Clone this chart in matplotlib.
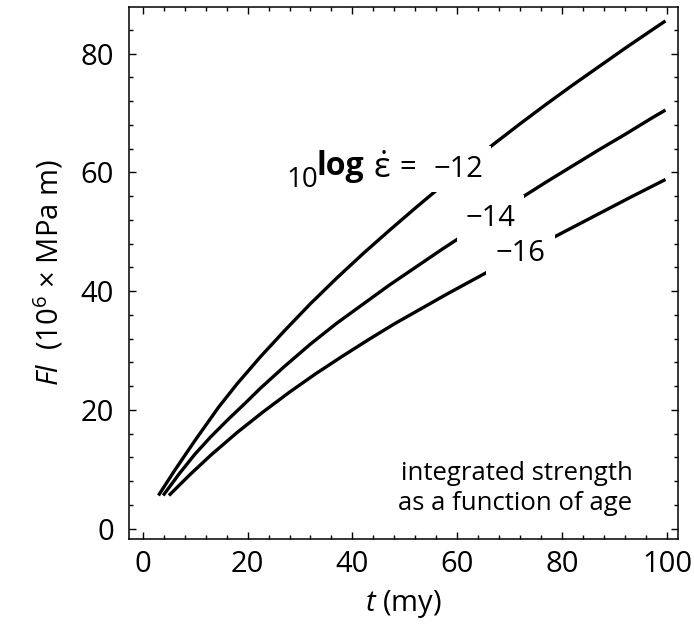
import matplotlib
matplotlib.use("Agg")
import matplotlib.pyplot as plt
from matplotlib.ticker import MultipleLocator

plt.rcParams['font.family'] = ['Open Sans', 'DejaVu Sans']
plt.rcParams['mathtext.fontset'] = 'custom'
plt.rcParams['mathtext.rm'] = 'Open Sans'
plt.rcParams['mathtext.it'] = 'Open Sans:italic'
plt.rcParams['mathtext.bf'] = 'Open Sans:bold'

# Data (t in my, FI in 10^6 x MPa m)
t_m12 = [3, 6, 10, 14.5, 18, 22.5, 27, 32, 37, 42, 47, 52, 57, 62, 67, 72, 77, 82, 87, 92, 97, 99.7]
fi_m12 = [5.6, 9.7, 14.9, 20.5, 24.4, 29.0, 33.3, 37.9, 42.2, 46.3, 50.2, 54.0, 57.7, 61.3,
          64.8, 68.2, 71.5, 74.7, 77.8, 80.9, 83.9, 85.5]

t_m14 = [3.9, 7, 10, 13, 16.4, 19.5, 22.5, 27, 32, 37, 42, 47, 52, 57, 62, 67, 72, 77, 82, 87, 92, 97, 99.7]
fi_m14 = [5.6, 9.3, 12.6, 15.5, 18.5, 21.1, 23.7, 27.3, 31.1, 34.6, 37.8, 41.0, 44.0, 47.0,
          49.9, 52.8, 55.6, 58.4, 61.1, 63.8, 66.4, 69.1, 70.5]

t_m16 = [5, 9, 13, 18, 23, 28, 33, 38, 43, 48, 53, 58, 63, 68, 73, 78, 83, 88, 93, 99.7]
fi_m16 = [5.6, 9.1, 12.4, 16.2, 19.7, 23.0, 26.1, 29.0, 31.8, 34.5, 37.0, 39.5, 41.9, 44.3,
          46.6, 48.9, 51.2, 53.5, 55.8, 58.8]

x_ticks = [0, 20, 40, 60, 80, 100]
y_ticks = [0, 20, 40, 60, 80]

fig = plt.figure(figsize=(6.94, 6.31), dpi=100)
ax = fig.add_axes([0.1863, 0.1453, 0.7907, 0.8441])

for tt, ff in [(t_m12, fi_m12), (t_m14, fi_m14), (t_m16, fi_m16)]:
    ax.plot(tt, ff, color='black', lw=2.4, solid_capstyle='butt', zorder=2)

ax.set_xlim(-2.56, 102.1)
ax.set_ylim(-1.78, 87.9)
ax.set_xticks(x_ticks)
ax.set_yticks(y_ticks)
ax.xaxis.set_minor_locator(MultipleLocator(4))
ax.yaxis.set_minor_locator(MultipleLocator(4))
ax.tick_params(which='both', direction='in', top=True, right=True, width=1.0, color='black')
ax.tick_params(which='major', length=5)
ax.tick_params(which='minor', length=3)
ax.tick_params(axis='x', which='major', labelsize=21, pad=8)
ax.tick_params(axis='y', which='major', labelsize=21, pad=11)
for s in ax.spines.values():
    s.set_linewidth(1.1)

ax.set_xlabel(r'$t$ (my)', fontsize=21, labelpad=6)
ax.set_ylabel(r'$\mathit{Fl}$  (10$^{6}$ × MPa m)', fontsize=21, labelpad=11)

# curve label for -12
ax.text(27.5, 57.6, '10', fontsize=20, ha='left', va='baseline', zorder=3)
ax.text(33.2, 59.5, 'log', fontsize=23, fontweight='bold', ha='left', va='baseline', zorder=3)
ax.text(45.6, 59.0, r'$\dot{\mathrm{ε}}$', fontsize=25, ha='center', va='baseline', zorder=3)
ax.text(50.5, 59.5, '=', fontsize=21, ha='center', va='baseline', zorder=3)
ax.text(64.9, 59.3, '−12', fontsize=21, ha='right', va='baseline',
        bbox=dict(facecolor='white', edgecolor='none', pad=6), zorder=3)
ax.text(71.1, 51.0, '−14', fontsize=21, ha='right', va='baseline',
        bbox=dict(facecolor='white', edgecolor='none', pad=6), zorder=3)
ax.text(76.8, 45.1, '−16', fontsize=21, ha='right', va='baseline',
        bbox=dict(facecolor='white', edgecolor='none', pad=7), zorder=3)

ax.text(93.4, 6.8, 'integrated strength\nas a function of age', fontsize=18.5,
        ha='right', va='center', multialignment='right', linespacing=1.3)

fig.savefig('out.png', dpi=100)
